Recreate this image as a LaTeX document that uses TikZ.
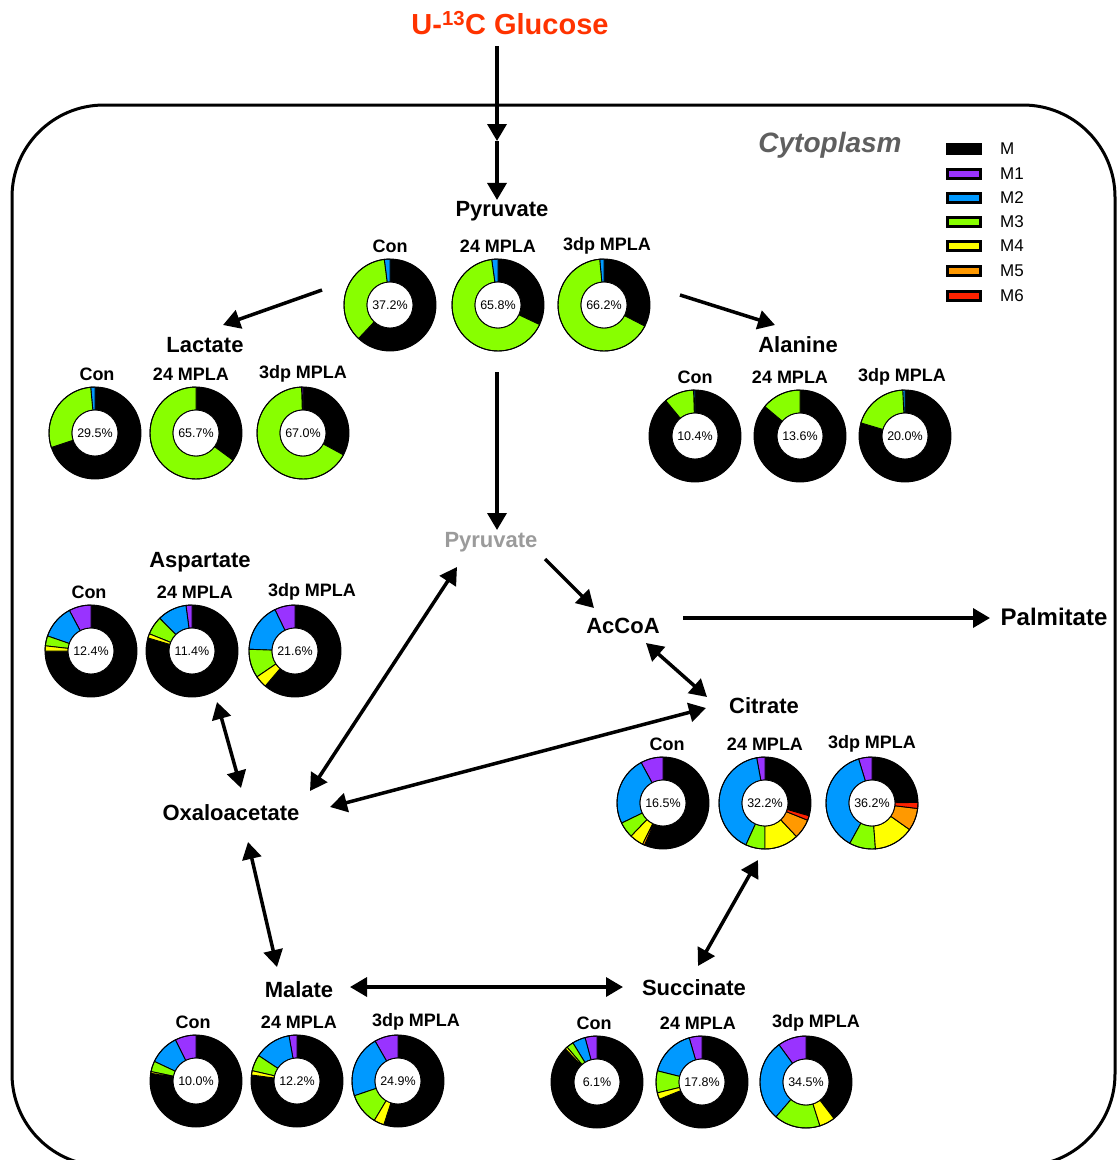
\documentclass[tikz,border=0pt]{standalone}
\usepackage{fontspec}
\setmainfont{Liberation Sans}
\usepackage{xcolor}
\usetikzlibrary{arrows.meta,calc}

\definecolor{iso1}{RGB}{153,51,255}
\definecolor{iso2}{RGB}{0,153,255}
\definecolor{iso3}{RGB}{136,255,0}
\definecolor{iso4}{RGB}{255,255,0}
\definecolor{iso5}{RGB}{255,153,0}
\definecolor{iso6}{RGB}{255,34,0}
\definecolor{glured}{RGB}{255,51,0}
\definecolor{cytogray}{RGB}{95,95,95}
\definecolor{pyrgray}{RGB}{155,155,155}

\tikzset{
  met/.style={font=\fontsize{22}{26}\selectfont\bfseries, inner sep=1pt},
  head/.style={font=\fontsize{18}{21}\selectfont\bfseries, inner sep=0pt},
  ring/.style={circle, minimum size=92pt, inner sep=0pt, font=\fontsize{12.5}{15}\selectfont},
  seg/.style={draw=black, line width=0.9pt},
  flow/.style={line width=3.5pt, -{Triangle[length=17pt,width=19pt]}},
  both/.style={line width=3.5pt, {Triangle[length=17pt,width=19pt]}-{Triangle[length=17pt,width=19pt]}},
  key/.style={draw=black, line width=2.5pt, minimum width=33pt, minimum height=9pt, inner sep=0pt},
  keytext/.style={font=\fontsize{17}{20}\selectfont, anchor=west, inner sep=0pt},
}

% [head shift], name, centre, head, percent, M1..M6
\newcommand{\donut}[6][0]{%
  \begin{scope}[shift={(#3)}, yscale=-1]
    \fill[black] (0,0) circle[radius=46];
    \xdef\angnow{90}
    \foreach \p [count=\i] in {#6} {
      \pgfmathsetmacro\angend{\angnow+3.6*\p}
      \ifdim\p pt>0pt
        \filldraw[fill=iso\i, seg] (\angnow:46) arc[start angle=\angnow, end angle=\angend, radius=46]
          -- (\angend:23) arc[start angle=\angend, end angle=\angnow, radius=23] -- cycle;
      \fi
      \xdef\angnow{\angend}
    }
    \draw[seg] (0,0) circle[radius=46];
    \filldraw[fill=white, seg] (0,0) circle[radius=23];
    \node[ring] (#2) at (0,0) {#5};
    \node[head] (#2-head) at (#1,59) {#4};
  \end{scope}}

\begin{document}
\begin{tikzpicture}[x=1pt, y=-1pt]
    \useasboundingbox (0,0) rectangle (1117,1160);
    \fill[white] (0,0) rectangle (1117,1160);

    \begin{scope}
        \clip (0,0) rectangle (1117,1160);
        \draw[line width=3pt, rounded corners=92pt] (12,105) rectangle (1115,1166);
    \end{scope}

    \node[font=\fontsize{29}{32}\selectfont\bfseries, text=glured] (glc) at (510,23) {U-\textsuperscript{13}C Glucose};
    \node[font=\fontsize{28}{31}\selectfont\bfseries\itshape, text=cytogray] (cyto) at (830,145) {Cytoplasm};

    \node[key, fill=black] (key0) at (964,149) {};
    \node[keytext] (keyl0) at (1000,149) {M};
    \foreach \i/\y in {1/174,2/198,3/222,4/246,5/271,6/296} {
        \node[key, fill=iso\i] (key\i) at (964,\y) {};
        \node[keytext] (keyl\i) at (1000,\y) {M\i};
    }

    \node[met] (pyr) at (502,211) {Pyruvate};
    \node[met] (lac) at (205,345) {Lactate};
    \node[met] (ala) at (798,345) {Alanine};
    \node[met, text=pyrgray] (pyrb) at (491,542) {Pyruvate};
    \node[met] (asp) at (200,562) {Aspartate};
    \node[met] (accoa) at (623,626) {AcCoA};
    \node[met, font=\fontsize{24}{28}\selectfont\bfseries] (palm) at (1054,617) {Palmitate};
    \node[met] (cit) at (764,706) {Citrate};
    \node[met] (oaa) at (231,813) {Oxaloacetate};
    \node[met] (mal) at (299,990) {Malate};
    \node[met] (suc) at (694,988) {Succinate};

    \donut{pyrcon}{390,305}{Con}{37.2\%}{0,2,36,0,0,0}
    \donut{pyr24}{498,305}{24 MPLA}{65.8\%}{0,2.2,65.8,0,0,0}
    \donut[3]{pyr3dp}{604,305}{3dp MPLA}{66.2\%}{0,1.5,65.9,0,0,0}

    \donut[2]{laccon}{95,433}{Con}{29.5\%}{0,1.5,28.6,0,0,0}
    \donut[-5]{lac24}{196,433}{24 MPLA}{65.7\%}{0,0,64.9,0,0,0}
    \donut{lac3dp}{303,433}{3dp MPLA}{67.0\%}{0.5,0,66.6,0,0,0}

    \donut{alacon}{695,436}{Con}{10.4\%}{0,0.5,10.5,0,0,0}
    \donut[-10]{ala24}{800,436}{24 MPLA}{13.6\%}{0,0,13.9,0,0,0}
    \donut[-3]{ala3dp}{905,436}{3dp MPLA}{20.0\%}{0,0.8,19.6,0,0,0}

    \donut[-2]{aspcon}{91,651}{Con}{12.4\%}{7.8,11.9,3.5,1.8,0,0}
    \donut[3]{asp24}{192,651}{24 MPLA}{11.4\%}{2.1,10.3,6.5,1.5,0,0}
    \donut[17]{asp3dp}{295,651}{3dp MPLA}{21.6\%}{7.2,17.2,10.1,4.3,0,0}

    \donut[4]{citcon}{663,803}{Con}{16.5\%}{7.9,24.3,5.6,4.9,0.7,0}
    \donut{cit24}{765,803}{24 MPLA}{32.2\%}{2.9,40.3,6.8,12,6.9,1.6}
    \donut{cit3dp}{872,803}{3dp MPLA}{36.2\%}{4.7,37.3,9.2,14,7.9,2.1}

    \donut[-3]{malcon}{196,1081}{Con}{10.0\%}{7.4,10.6,3.7,0.6,0,0}
    \donut[2]{mal24}{297,1081}{24 MPLA}{12.2\%}{2.8,12.9,5.7,1.5,0,0}
    \donut[18]{mal3dp}{398,1081}{3dp MPLA}{24.9\%}{8.3,21.9,11.2,3.6,0,0}

    \donut[-3]{succon}{597,1082}{Con}{6.1\%}{4.2,4.6,2.5,0.8,0,0}
    \donut[-4]{suc24}{702,1082}{24 MPLA}{17.8\%}{4.5,16.6,7.7,2.3,0,0}
    \donut[10]{suc3dp}{806,1082}{3dp MPLA}{34.5\%}{10,28.7,16.2,5.5,0,0}

    \coordinate (memb) at (497,141);
    \coordinate (pyr-l) at (322,290);
    \coordinate (lac-in) at (223,325);
    \coordinate (pyr-r) at (680,295);
    \coordinate (ala-in) at (775,325);
    \coordinate (pyr-d) at (497,372);
    \coordinate (pyrb-in) at (497,530);
    \coordinate (pyrb-r) at (545,559);
    \coordinate (accoa-in) at (594,608);
    \coordinate (accoa-r) at (683,618);
    \coordinate (palm-in) at (990,618);
    \coordinate (accoa-d) at (646,643);
    \coordinate (cit-ul) at (707,697);
    \coordinate (cit-l) at (706,708);
    \coordinate (oaa-r) at (330,807);
    \coordinate (oaa-ur) at (310,791);
    \coordinate (pyrb-l) at (457,567);
    \coordinate (asp-d) at (217,702);
    \coordinate (oaa-u) at (241,788);
    \coordinate (oaa-d) at (248,842);
    \coordinate (mal-u) at (277,967);
    \coordinate (mal-r) at (350,987);
    \coordinate (suc-l) at (623,987);
    \coordinate (suc-u) at (698,966);
    \coordinate (cit-d) at (758,860);

    \draw[flow, shorten <=8pt] (glc.south -| memb) -- (memb);
    \draw[flow] (memb) -- (memb |- pyr.north);
    \draw[flow] (pyr-l) -- (lac-in);
    \draw[flow] (pyr-r) -- (ala-in);
    \draw[flow] (pyr-d) -- (pyrb-in);
    \draw[flow] (pyrb-r) -- (accoa-in);
    \draw[flow] (accoa-r) -- (palm-in);
    \draw[both] (accoa-d) -- (cit-ul);
    \draw[both] (oaa-r) -- (cit-l);
    \draw[both] (oaa-ur) -- (pyrb-l);
    \draw[both] (asp-d) -- (oaa-u);
    \draw[both] (oaa-d) -- (mal-u);
    \draw[both] (mal-r) -- (suc-l);
    \draw[both] (suc-u) -- (cit-d);
\end{tikzpicture}
\end{document}
